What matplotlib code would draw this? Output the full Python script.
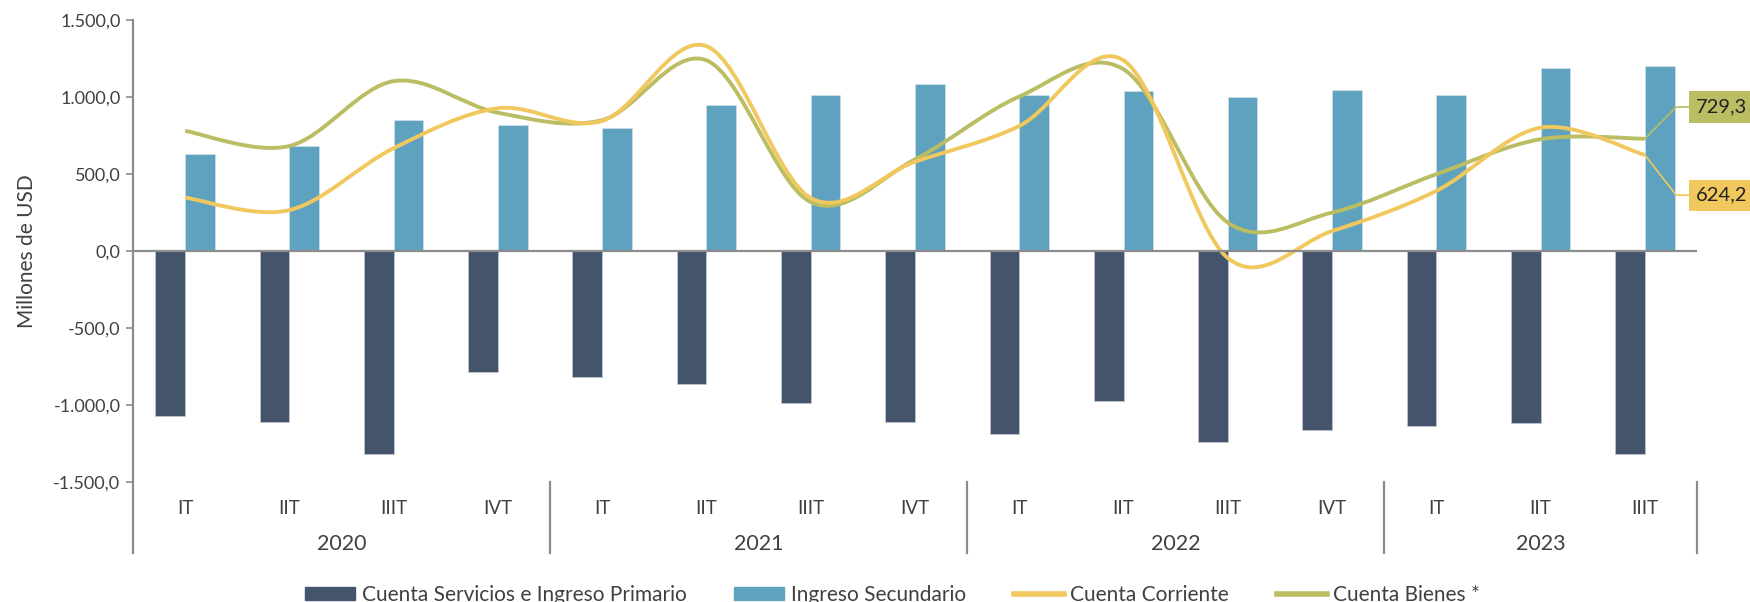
import matplotlib
matplotlib.use('Agg')
import matplotlib.pyplot as plt
from matplotlib.path import Path
from matplotlib.patches import PathPatch, Patch
from matplotlib.lines import Line2D
from matplotlib.ticker import FuncFormatter
import numpy as np

plt.rcParams['font.family'] = ['Lato', 'DejaVu Sans']

# data (millones de USD)
quarters = ['IT', 'IIT', 'IIIT', 'IVT'] * 3 + ['IT', 'IIT', 'IIIT']
years = ['2020', '2021', '2022', '2023']
servicios = [-1069, -1108, -1318, -786,
             -815, -864, -987, -1108,
             -1190, -972, -1240, -1162,
             -1134, -1113, -1316]
secundario = [633, 680, 851, 816,
              797, 948, 1013, 1082,
              1015, 1039, 1000, 1043,
              1015, 1188, 1201]
corriente = [347, 266, 668, 927,
             845, 1330, 345, 580,
             812, 1238, -45, 130,
             391, 801, 624.2]
bienes = [780, 682, 1103, 898,
          850, 1238, 318, 595,
          1003, 1180, 185, 250,
          499, 726, 729.3]

c_dark = '#44546A'
c_blue = '#5FA2BF'
c_yel = '#F0C85E'
c_grn = '#BBBD63'
c_axis = '#8C8C8C'
c_text = '#404040'


def smooth_path(xs, ys):
    # bezier through the points, catmull-rom style like office "smoothed line"
    pts = np.column_stack([xs, ys]).astype(float)
    verts = [pts[0]]
    codes = [Path.MOVETO]
    n = len(pts)
    for i in range(n - 1):
        p0 = pts[max(i - 1, 0)]
        p1 = pts[i]
        p2 = pts[i + 1]
        p3 = pts[min(i + 2, n - 1)]
        c1 = p1 + (p2 - p0) / 6
        c2 = p2 - (p3 - p1) / 6
        verts += [c1, c2, p2]
        codes += [Path.CURVE4] * 3
    return Path(verts, codes)


fig = plt.figure(figsize=(17.5, 6.02), dpi=100)
ax = fig.add_axes([0.076, 0.199, 0.8937, 0.7678])

x = np.arange(len(quarters))
w = 0.285
ax.bar(x - w / 2, servicios, w, color=c_dark, edgecolor='#C8D0DA', linewidth=0.4, zorder=2)
ax.bar(x + w / 2, secundario, w, color=c_blue, edgecolor='#D5E6EE', linewidth=0.4, zorder=2)

ax.add_patch(PathPatch(smooth_path(x, corriente), facecolor='none', edgecolor=c_yel, lw=2.8, zorder=4))
ax.add_patch(PathPatch(smooth_path(x, bienes), facecolor='none', edgecolor=c_grn, lw=2.8, zorder=3))

ax.set_xlim(-0.5, 14.5)
ax.set_ylim(-1500, 1500)
ax.axhline(0, color=c_axis, lw=1.6, zorder=5)

for s in ['top', 'right', 'bottom']:
    ax.spines[s].set_visible(False)
ax.spines['left'].set_color(c_axis)
ax.spines['left'].set_linewidth(1.6)

ax.set_yticks(np.arange(-1500, 1501, 500))
ax.yaxis.set_major_formatter(FuncFormatter(
    lambda v, p: f'{v:,.1f}'.replace(',', 'X').replace('.', ',').replace('X', '.')))
ax.tick_params(axis='y', length=5, width=1.2, color=c_axis, labelsize=13, labelcolor=c_text, pad=4)
ax.set_ylabel('Millones de USD', fontsize=15, color=c_text, labelpad=12)

ax.set_xticks(x)
ax.set_xticklabels(quarters)
ax.tick_params(axis='x', length=0, labelsize=13.5, labelcolor=c_text, pad=13)

tr = ax.get_xaxis_transform()
for i, yr in enumerate(years):
    start = i * 4 - 0.5
    end = min(start + 4, 14.5)
    ax.text((start + end) / 2, -0.134, yr, transform=tr, ha='center', va='center',
            fontsize=15.5, color=c_text)
for sep in [-0.5, 3.5, 7.5, 11.5, 14.5]:
    ax.plot([sep, sep], [0, -0.154], transform=tr, color=c_axis, lw=1.6, clip_on=False)

# end labels
ax.plot([14, 14.3, 14.42], [bienes[-1], 935, 935], color=c_grn, lw=1.2, clip_on=False, zorder=4)
ax.plot([14, 14.3, 14.42], [corriente[-1], 363, 363], color=c_yel, lw=1.2, clip_on=False, zorder=4)
fmt = lambda v: f'{v:.1f}'.replace('.', ',')
ax.text(14.49, 935, fmt(bienes[-1]), ha='left', va='center', fontsize=14.5, color='#222222',
        bbox=dict(boxstyle='square,pad=0.35', fc=c_grn, ec='none'), clip_on=False, zorder=6)
ax.text(14.49, 363, fmt(corriente[-1]), ha='left', va='center', fontsize=14.5, color='#222222',
        bbox=dict(boxstyle='square,pad=0.35', fc=c_yel, ec='none'), clip_on=False, zorder=6)

handles = [Patch(color=c_dark), Patch(color=c_blue),
           Line2D([], [], color=c_yel, lw=4), Line2D([], [], color=c_grn, lw=4)]
labels = ['Cuenta Servicios e Ingreso Primario', 'Ingreso Secundario',
          'Cuenta Corriente', 'Cuenta Bienes *']
fig.legend(handles, labels, loc='center', bbox_to_anchor=(0.51, 0.012), ncol=4, frameon=False,
           fontsize=15, handlelength=2.4, handleheight=0.55, handletextpad=0.3, columnspacing=2.3,
           labelcolor=c_text)

fig.savefig('out.png', dpi=100)
